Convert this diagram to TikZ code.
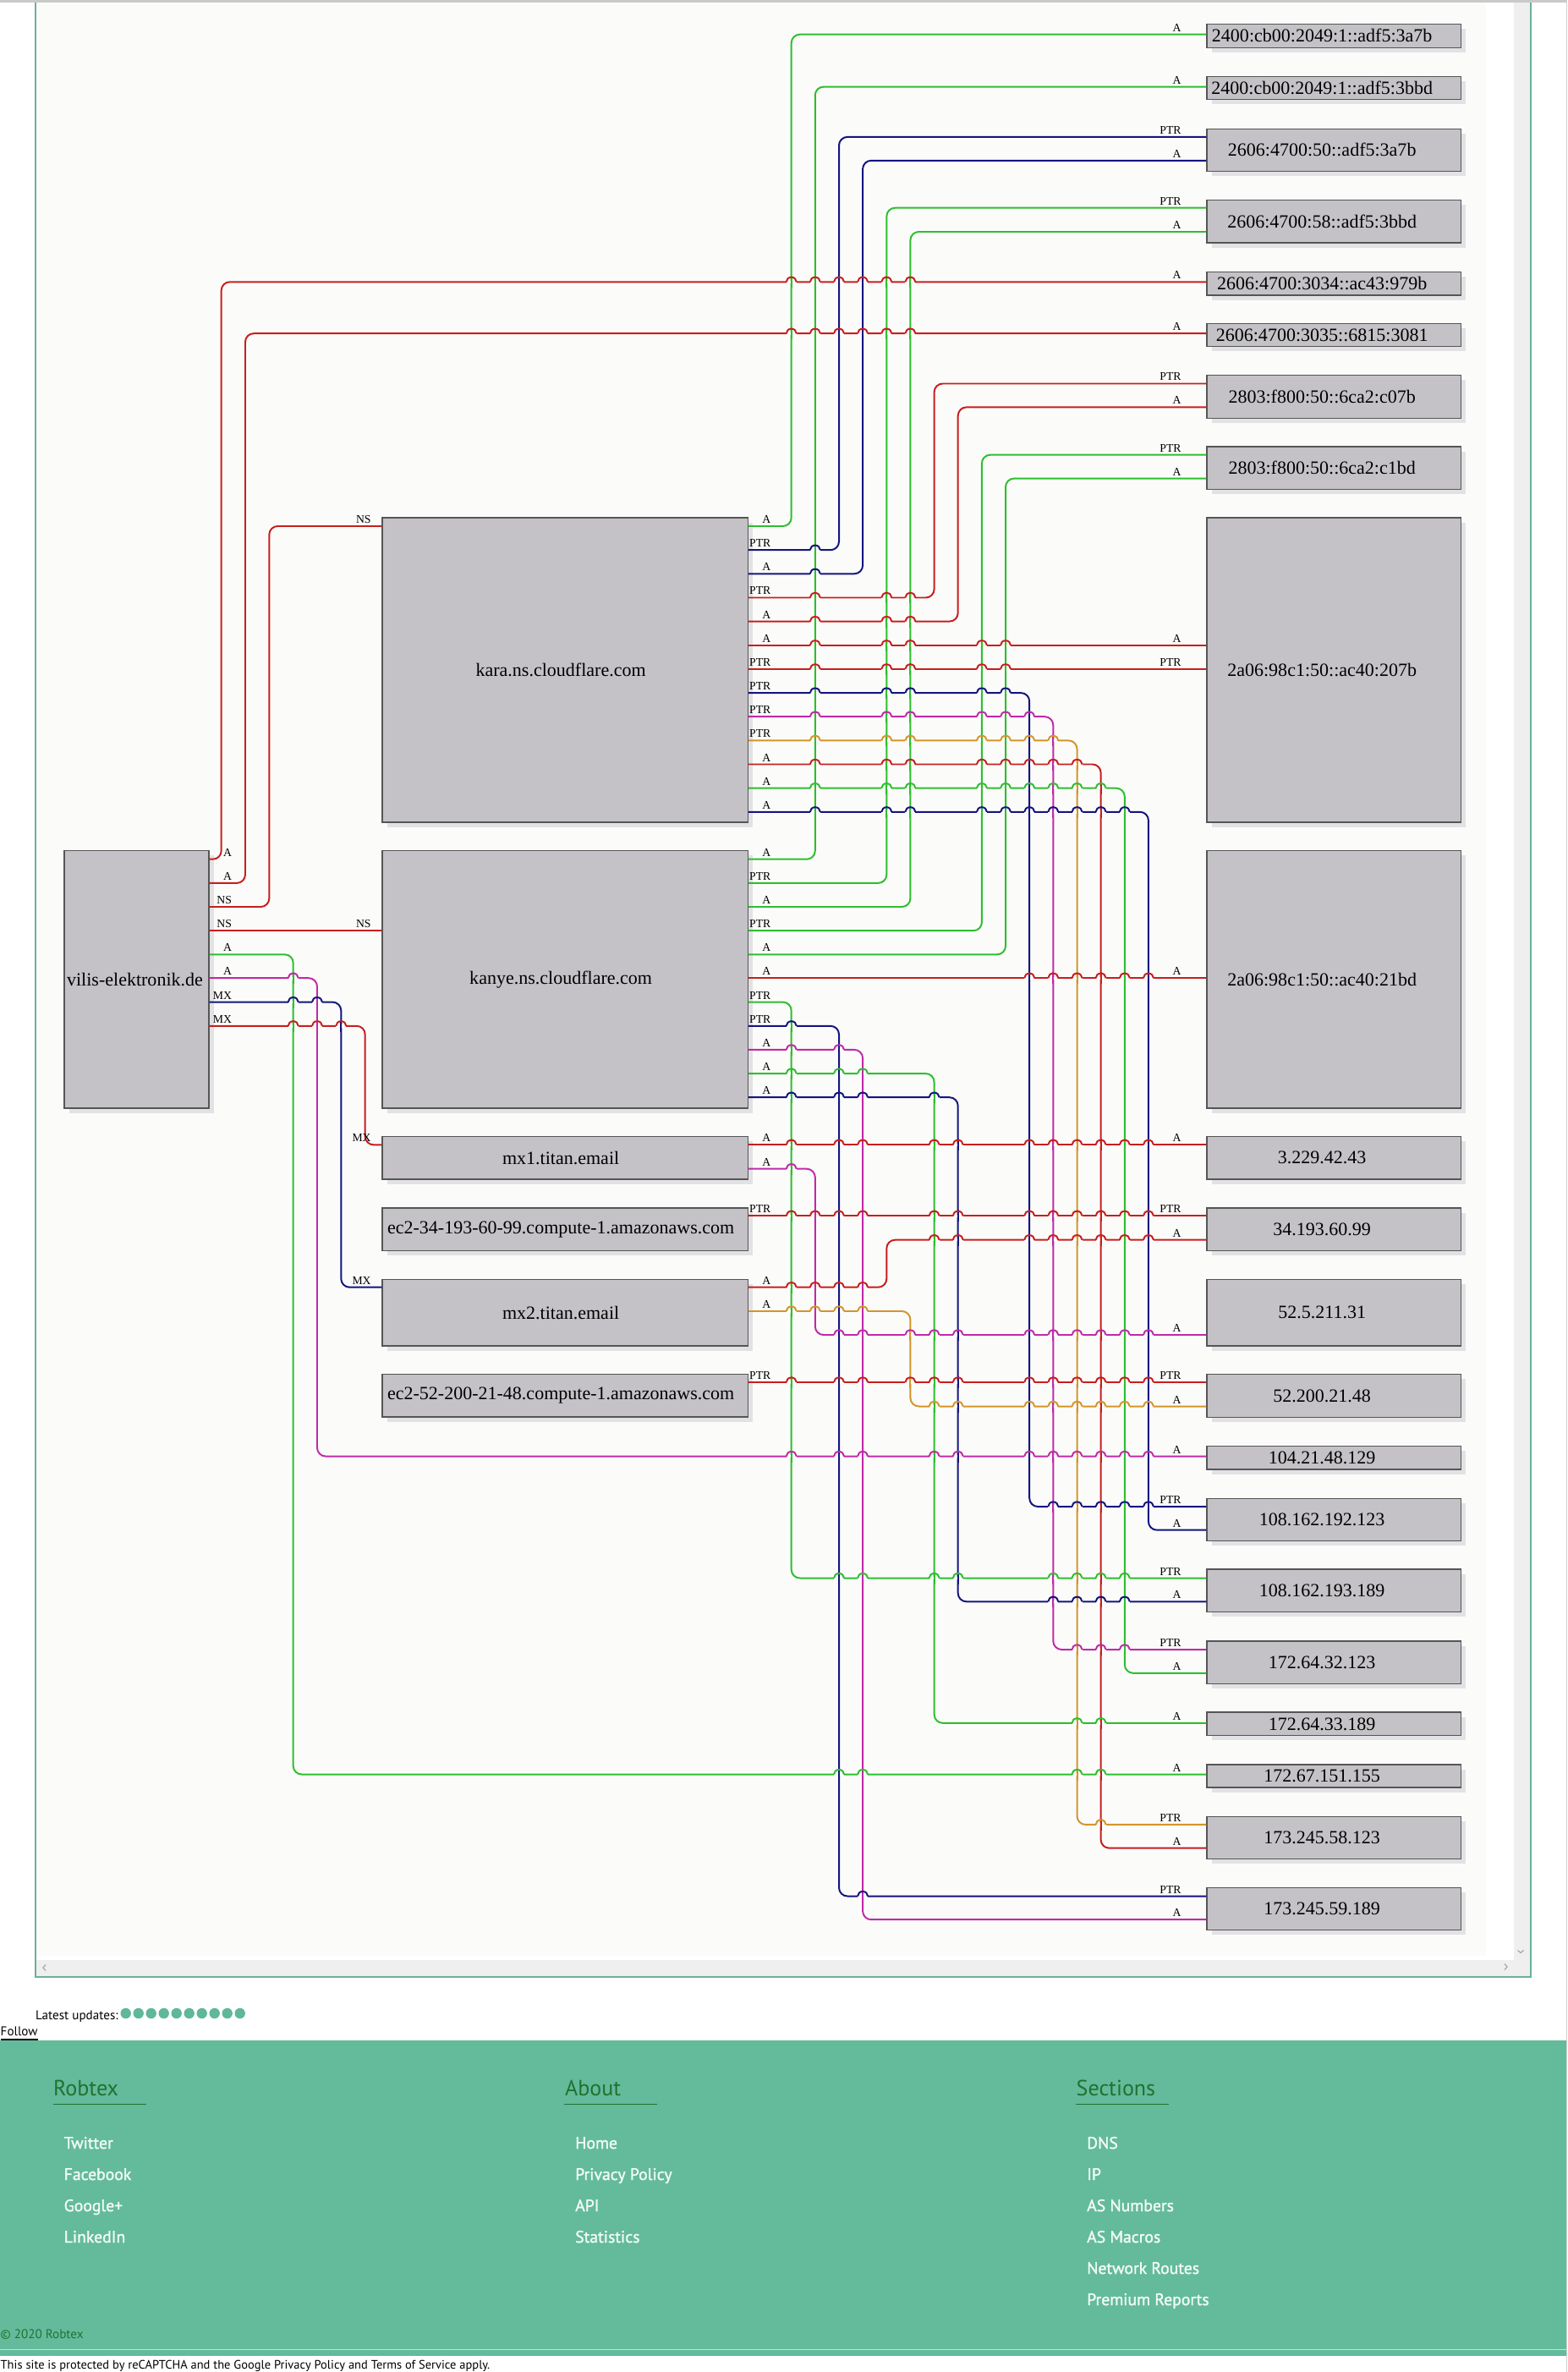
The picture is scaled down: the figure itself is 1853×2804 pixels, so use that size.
\documentclass[tikz,border=0pt]{standalone}
\usepackage{fontspec}
\setmainfont{Liberation Serif}
\newfontfamily\webfont{PT Sans}
\newfontfamily\linkfont[FakeBold=1.4]{PT Sans}
\usetikzlibrary{shadows}

\definecolor{ered}{HTML}{C81E1E}
\definecolor{egreen}{HTML}{2EBE2E}
\definecolor{enavy}{HTML}{14147F}
\definecolor{emag}{HTML}{C02AA8}
\definecolor{egold}{HTML}{D4952A}
\definecolor{boxfill}{HTML}{C4C2C6}
\definecolor{boxline}{HTML}{555555}
\definecolor{boxshade}{HTML}{E2E2E5}
\definecolor{canvasbg}{HTML}{FBFCFA}
\definecolor{frameteal}{HTML}{6AB09E}
\definecolor{footgreen}{HTML}{63BB9C}
\definecolor{headgreen}{HTML}{22712F}
\definecolor{linkwhite}{HTML}{F2FAF5}
\definecolor{barsgray}{HTML}{EFEFEF}
\definecolor{topgray}{HTML}{C9C9C9}
\definecolor{dotteal}{HTML}{5FB89B}

\makeatletter
\newcommand\pxat[3]{\pgfpointanchor{#1}{#2}\pgfmathsetmacro#3{\pgf@x/0.2845276}}
\makeatother

% hop of a horizontal run (y=#1, from #2 to #3) over the current vertical run
\newcommand\hop[3]{%
  \pgfmathtruncatemacro\hit{(\vxm>#2+3)*(\vxm<#3-3)*(#1>\vmin+3)*(#1<\vmax-3)}%
  \ifnum\hit=1
    \fill[canvasbg] (\vxm-6,#1-1.7) rectangle (\vxm+6,#1+1.7);
    \draw[wire, draw=\vcol] (\vxm,#1-7) -- (\vxm,#1+7);
    \draw[wire, draw=\col] (\vxm-6,#1) arc[start angle=180, end angle=0, x radius=0.06cm, y radius=0.056cm];
  \fi}

% source/port y/column x/target/port y/colour/source label/target label/label offset
\def\edgelist{%
vilis/1015.7/261.7/n3034/333.3/ered/A/A/0.29cm,
vilis/1043.9/290.0/n3035/394.2/ered/A/A/0.29cm,
vilis/1072.0/318.3/kara/622.0/ered/NS/NS/0.12cm,
vilis/1100.2/0/kanye/1100.2/ered/NS/NS/0.12cm,
vilis/1128.3/346.7/n155/2097.5/egreen/A/A/0.29cm,
vilis/1156.2/375.0/n129/1721.5/emag/A/A/0.29cm,
vilis/1184.6/403.3/mx2/1521.7/enavy/MX/MX/0.12cm,
vilis/1212.8/431.7/mx1/1353.3/ered/MX/MX/0.12cm,
kara/622.0/935.7/n3a7b/40.7/egreen/A/A/0.29cm,
kara/650.2/992.0/n50/161.9/enavy/PTR/PTR/0.29cm,
kara/678.3/1020.1/n50/189.8/enavy/A/A/0.29cm,
kara/706.5/1104.6/c07b/453.5/ered/PTR/PTR/0.29cm,
kara/734.6/1132.7/c07b/481.4/ered/A/A/0.29cm,
kara/762.8/0/n207b/762.8/ered/A/A/0.29cm,
kara/790.9/0/n207b/790.9/ered/PTR/PTR/0.29cm,
kara/819.1/1217.2/n192/1781.0/enavy/PTR/PTR/0.29cm,
kara/847.2/1245.3/n32/1950.0/emag/PTR/PTR/0.29cm,
kara/875.4/1273.5/n58/2156.9/egold/PTR/PTR/0.29cm,
kara/903.5/1301.6/n58/2184.7/ered/A/A/0.29cm,
kara/931.7/1329.8/n32/1977.8/egreen/A/A/0.29cm,
kara/959.8/1357.9/n192/1808.7/enavy/A/A/0.29cm,
kanye/1015.7/963.8/n3bbd/102.6/egreen/A/A/0.29cm,
kanye/1043.9/1048.3/n58b/245.7/egreen/PTR/PTR/0.29cm,
kanye/1072.0/1076.4/n58b/274.0/egreen/A/A/0.29cm,
kanye/1100.2/1160.9/c1bd/537.7/egreen/PTR/PTR/0.29cm,
kanye/1128.3/1189.0/c1bd/565.6/egreen/A/A/0.29cm,
kanye/1156.2/0/n21bd/1156.2/ered/A/A/0.29cm,
kanye/1184.6/935.7/n193/1865.5/egreen/PTR/PTR/0.29cm,
kanye/1212.8/992.0/n59/2241.5/enavy/PTR/PTR/0.29cm,
kanye/1240.9/1020.1/n59/2269.2/emag/A/A/0.29cm,
kanye/1269.1/1104.6/n33/2036.8/egreen/A/A/0.29cm,
kanye/1297.2/1132.7/n193/1893.3/enavy/A/A/0.29cm,
mx1/1353.3/0/n43/1353.3/ered/A/A/0.29cm,
mx1/1381.7/963.8/n31/1578.0/emag/A/A/0.29cm,
ec34/1437.3/0/n99/1437.3/ered/PTR/PTR/0.29cm,
mx2/1521.7/1048.3/n99/1465.7/ered/A/A/0.29cm,
mx2/1550.0/1076.4/n48/1662.5/egold/A/A/0.29cm,
ec52/1634.0/0/n48/1634.0/ered/PTR/PTR/0.29cm}

\begin{document}
\begin{tikzpicture}[x=0.01cm, y=-0.01cm,
  box/.style={draw=boxline, fill=boxfill, line width=0.37pt, inner sep=0pt, anchor=north west,
    general shadow={fill=boxshade, shadow xshift=0.057cm, shadow yshift=-0.057cm}},
  ipbox/.style={box, minimum width=3.003cm},
  hostbox/.style={box, minimum width=4.321cm},
  boxtext/.style={font=\fontsize{6.26}{7}\selectfont, inner sep=0pt},
  iptext/.style={boxtext, xshift=-0.14cm},
  hosttext/.style={boxtext, xshift=-0.05cm},
  wire/.style={line width=0.56pt, rounded corners=0.1cm},
  elab/.style={font=\fontsize{3.9}{4.5}\selectfont, inner sep=0pt, anchor=base east, yshift=0.035cm},
  smalltext/.style={font=\webfont\fontsize{4.3}{5}\selectfont, inner sep=0pt, anchor=base west},
  foothead/.style={font=\webfont\fontsize{7.4}{8}\selectfont, text=headgreen, inner sep=0pt, anchor=base west},
  footlink/.style={font=\linkfont\fontsize{5.6}{6.5}\selectfont, text=linkwhite, inner sep=0pt, anchor=base west}]
\useasboundingbox (0,0) rectangle (1853,2804);
\fill[white] (0,0) rectangle (1853,2804);

% page frame
\fill[canvasbg] (43,2.7) rectangle (1757,2312);
\fill[barsgray] (1790,2.7) rectangle (1808.5,2336);
\fill[barsgray] (43,2317) rectangle (1808.5,2336);
\draw[frameteal, line width=0.023cm] (41.9,0) -- (41.9,2336.8) -- (1809.8,2336.8) -- (1809.8,0);
\fill[topgray] (0,0) rectangle (1852,2.7);
\fill[black!18] (1852,0) rectangle (1853,2804);
\draw[black!35, line width=0.012cm] (54,2322.5) -- (51,2326) -- (54,2329.5);
\draw[black!35, line width=0.012cm] (1779,2321.5) -- (1782,2325) -- (1779,2328.5);
\draw[black!35, line width=0.012cm] (1794.5,2305.5) -- (1798,2308.5) -- (1801.5,2305.5);

% hosts
\node[box, minimum width=1.71cm, minimum height=3.043cm,
  label={[boxtext, xshift=-0.02cm]center:vilis-elektronik.de}] (vilis) at (75.3,1005) {};
\node[hostbox, minimum height=3.597cm, label={[hosttext]center:kara.ns.cloudflare.com}] (kara) at (451.3,611.3) {};
\node[hostbox, minimum height=3.043cm, label={[hosttext]center:kanye.ns.cloudflare.com}] (kanye) at (451.3,1005) {};
\node[hostbox, minimum height=0.506cm, label={[hosttext]center:mx1.titan.email}] (mx1) at (451.3,1342.7) {};
\node[hostbox, minimum height=0.504cm, label={[hosttext]center:ec2-34-193-60-99.compute-1.amazonaws.com}] (ec34) at (451.3,1427.3) {};
\node[hostbox, minimum height=0.786cm, label={[hosttext]center:mx2.titan.email}] (mx2) at (451.3,1511.7) {};
\node[hostbox, minimum height=0.504cm, label={[hosttext]center:ec2-52-200-21-48.compute-1.amazonaws.com}] (ec52) at (451.3,1624) {};

% addresses
\foreach \nm/\ytop/\hgt/\txt in {
  n3a7b/27.6/0.279cm/2400:cb00:2049:1::adf5:3a7b,
  n3bbd/89.6/0.275cm/2400:cb00:2049:1::adf5:3bbd,
  n50/151.6/0.501cm/2606:4700:50::adf5:3a7b,
  n58b/235.7/0.506cm/2606:4700:58::adf5:3bbd,
  n3034/320.7/0.276cm/2606:4700:3034::ac43:979b,
  n3035/381.9/0.272cm/2606:4700:3035::6815:3081,
  c07b/442.8/0.509cm/2803:f800:50::6ca2:c07b,
  c1bd/527.4/0.505cm/2803:f800:50::6ca2:c1bd,
  n207b/611.3/3.597cm/2a06:98c1:50::ac40:207b,
  n21bd/1005/3.043cm/2a06:98c1:50::ac40:21bd,
  n43/1342.7/0.506cm/3.229.42.43,
  n99/1427.3/0.504cm/34.193.60.99,
  n31/1511.7/0.786cm/52.5.211.31,
  n48/1624/0.505cm/52.200.21.48,
  n129/1708.5/0.278cm/104.21.48.129,
  n192/1770.5/0.503cm/108.162.192.123,
  n193/1854.2/0.508cm/108.162.193.189,
  n32/1939.2/0.503cm/172.64.32.123,
  n33/2023.3/0.278cm/172.64.33.189,
  n155/2085.4/0.268cm/172.67.151.155,
  n58/2146.5/0.503cm/173.245.58.123,
  n59/2230.6/0.504cm/173.245.59.189}
  \node[ipbox, minimum height=\hgt, label={[iptext]center:{\txt}}] (\nm) at (1426.3,\ytop) {};

% records
\foreach \src/\ya/\xm/\tgt/\yb/\col/\la/\lb/\off in \edgelist {
  \ifdim\xm pt>1pt
    \draw[wire, draw=\col] (\src.east |- 0,\ya) -| (\xm,\yb) -- (\tgt.west |- 0,\yb);
  \else
    \draw[wire, draw=\col] (\src.east |- 0,\ya) -- (\tgt.west |- 0,\yb);
  \fi
  \node[elab, xshift=0.27cm] at (\src.east |- 0,\ya) {\la};
  \node[elab, xshift=-\off] at (\tgt.west |- 0,\yb) {\lb};
}

% line hops
\foreach \src/\ya/\xm/\tgt/\yb/\col/\la/\lb/\off in \edgelist {
  \pxat{\src}{east}{\xs}
  \pxat{\tgt}{west}{\xt}
  \foreach \vsrc/\vya/\vxm/\vtgt/\vyb/\vcol/\vla/\vlb/\voff in \edgelist {
    \ifdim\vxm pt>1pt
      \pgfmathsetmacro\vmin{min(\vya,\vyb)}
      \pgfmathsetmacro\vmax{max(\vya,\vyb)}
      \ifdim\xm pt>1pt
        \hop{\ya}{\xs}{\xm}
        \hop{\yb}{\xm}{\xt}
      \else
        \hop{\ya}{\xs}{\xt}
      \fi
    \fi
  }
}

% page footer
\node[smalltext] (latest) at (41.5,2387.3) {Latest updates:};
\foreach \k in {0,...,9}
  \fill[dotteal] (148.7+15*\k,2380) circle[radius=0.062cm];
\node[smalltext] (follow) at (0,2406) {\underline{Follow}};
\fill[footgreen] (0,2411.8) rectangle (1852,2784.6);
\draw[white!85!black, line width=0.01cm] (0,2777) -- (1852,2777);

\node[foothead] (hrobtex) at (62.5,2477.3) {Robtex};
\node[foothead] (habout) at (667.4,2477.3) {About};
\node[foothead] (hsections) at (1272,2477.3) {Sections};
\foreach \h in {hrobtex,habout,hsections}
  \draw[headgreen, line width=0.011cm] (\h.base west |- 0,2487.3) -- ++(110,0);

\foreach \txt [count=\i] in {Twitter,Facebook,Google+,LinkedIn}
  \node[footlink] at (75,2503+37*\i) {\txt};
\foreach \txt [count=\i] in {Home,Privacy Policy,API,Statistics}
  \node[footlink] at (679.5,2503+37*\i) {\txt};
\foreach \txt [count=\i] in {DNS,IP,AS Numbers,AS Macros,Network Routes,Premium Reports}
  \node[footlink] at (1284.5,2503+37*\i) {\txt};

\node[smalltext, text=headgreen] (copy) at (0,2764) {© 2020 Robtex};
\node[smalltext, font=\webfont\fontsize{4.12}{5}\selectfont] (captcha) at (0,2800) {This site is protected by reCAPTCHA and the Google \underline{Privacy Policy} and \underline{Terms of Service} apply.};
\end{tikzpicture}
\end{document}
